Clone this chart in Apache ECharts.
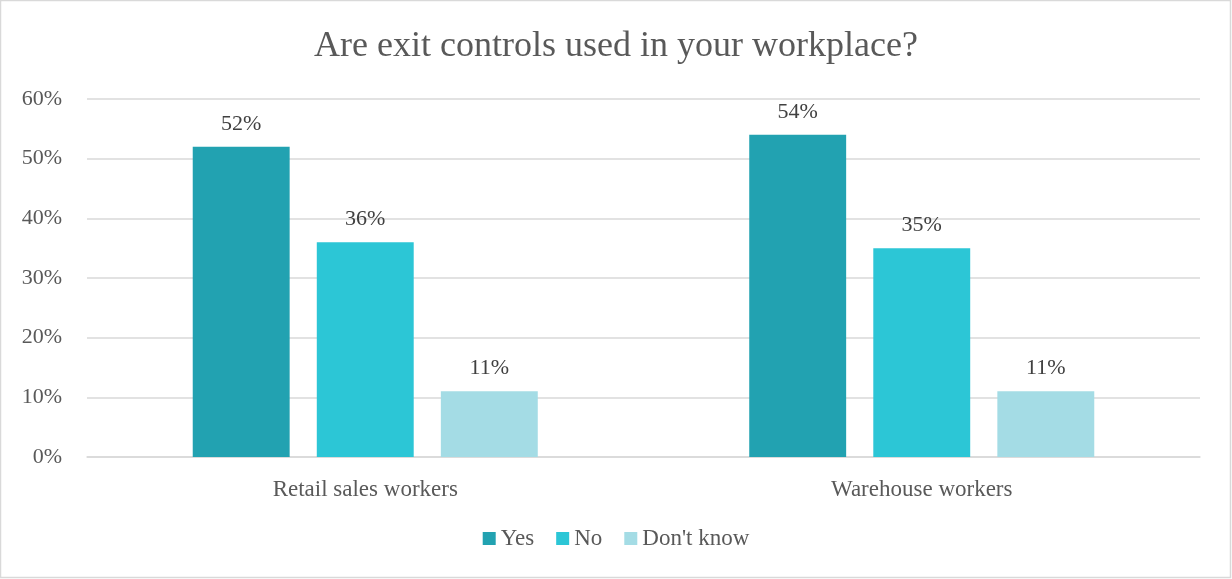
<!DOCTYPE html>
<html>
<head>
<meta charset="utf-8">
<script src="https://cdn.jsdelivr.net/npm/echarts@6/dist/echarts.min.js"></script>
<style>
  html, body { margin: 0; padding: 0; background: #fff; }
  #chart { width: 1232px; height: 579px; }
</style>
</head>
<body>
<div id="chart"></div>
<script>
// Survey: exit controls at work, share of respondents by answer
const categories = ['Retail sales workers', 'Warehouse workers'];
const seriesNames = ['Yes', 'No', "Don't know"];
const yesValues = [52, 54];
const noValues = [36, 35];
const dontKnowValues = [11, 11];
const yTicks = [0, 10, 20, 30, 40, 50, 60];

const colors = ['#22A2B1', '#2CC6D6', '#A4DCE5'];
const fontFamily = '"Liberation Serif", "DejaVu Serif", serif';

const chart = echarts.init(document.getElementById('chart'));

function barSeries(name, values, color) {
  return {
    name: name,
    type: 'bar',
    data: values,
    barGap: '28%',
    barCategoryGap: '38%',
    itemStyle: { color: color },
    label: {
      show: true,
      position: 'top',
      distance: 12,
      formatter: p => p.value + '%',
      color: '#404040',
      fontFamily: fontFamily,
      fontSize: 22
    }
  };
}

chart.setOption({
  animation: false,
  backgroundColor: '#ffffff',
  title: {
    text: 'Are exit controls used in your workplace?',
    left: 'center',
    top: 24,
    textStyle: {
      color: '#595959',
      fontFamily: fontFamily,
      fontWeight: 'normal',
      fontSize: 36
    }
  },
  legend: {
    data: seriesNames,
    bottom: 24,
    left: 'center',
    itemWidth: 13,
    itemHeight: 13,
    itemGap: 22,
    icon: 'rect',
    textStyle: {
      color: '#595959',
      fontFamily: fontFamily,
      fontSize: 23
    }
  },
  grid: {
    left: 87,
    right: 32,
    top: 99,
    bottom: 122,
    containLabel: false
  },
  xAxis: {
    type: 'category',
    data: categories,
    axisTick: { show: false },
    axisLine: { lineStyle: { color: '#d9d9d9', width: 1.5 } },
    axisLabel: {
      color: '#595959',
      fontFamily: fontFamily,
      fontSize: 23,
      margin: 21
    }
  },
  yAxis: {
    type: 'value',
    min: yTicks[0],
    max: yTicks[yTicks.length - 1],
    interval: 10,
    axisLine: { show: false },
    axisTick: { show: false },
    splitLine: { lineStyle: { color: '#d9d9d9', width: 1.5 } },
    axisLabel: {
      formatter: v => v + '%',
      color: '#595959',
      fontFamily: fontFamily,
      fontSize: 22,
      margin: 25
    }
  },
  graphic: [{
    type: 'rect',
    shape: { x: 0.5, y: 0.5, width: 1230, height: 577 },
    style: { fill: 'none', stroke: '#d9d9d9', lineWidth: 1.5 },
    silent: true
  }],
  series: [
    barSeries(seriesNames[0], yesValues, colors[0]),
    barSeries(seriesNames[1], noValues, colors[1]),
    barSeries(seriesNames[2], dontKnowValues, colors[2])
  ]
});
</script>
</body>
</html>
